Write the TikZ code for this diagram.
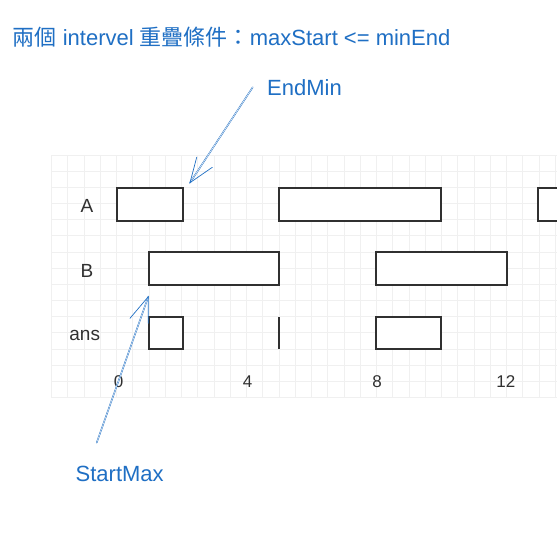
\documentclass[tikz,border=0pt]{standalone}
\usepackage{fontspec}
\setmainfont{Liberation Sans}
\newfontfamily\cjk{Noto Sans CJK TC}
\definecolor{noteblue}{HTML}{1F6FC4}
\definecolor{boxgray}{HTML}{303030}
\definecolor{gridgray}{HTML}{F0F0F0}
\begin{document}
\begin{tikzpicture}[x=1pt,y=-1pt,
  bar/.style={draw=boxgray,line width=2pt,fill=white},
  rowlbl/.style={text=boxgray,font=\fontsize{19}{22}\selectfont,inner sep=0pt},
  axlbl/.style={text=boxgray,font=\fontsize{17}{20}\selectfont,inner sep=0pt,anchor=base},
  note/.style={text=noteblue,font=\fontsize{22}{26}\selectfont,inner sep=0pt,anchor=base west},
  sketch/.style={draw=noteblue,line width=0.45pt,double=white,double distance=0.5pt,line cap=round},
  barb/.style={draw=noteblue,line width=0.7pt,line cap=round}]
\useasboundingbox (0,0) rectangle (557,546);
\fill[white] (0,0) rectangle (557,546);
% grid
\foreach \k in {-4,...,27} {
  \draw[gridgray,line width=1pt] ({116.7+16.25*\k},155) -- ({116.7+16.25*\k},397.5);
}
\foreach \j in {0,...,15} {
  \draw[gridgray,line width=1pt] (52,{155+16.17*\j}) -- (557,{155+16.17*\j});
}
% title
\node[note] (title) at (12.5,45) {{\cjk 兩個} intervel {\cjk 重疊條件：}maxStart <= minEnd};
% row labels
\node[rowlbl,anchor=base] (la) at (87,212.3) {A};
\node[rowlbl,anchor=base] (lb) at (87,277.3) {B};
\node[rowlbl,anchor=base] (lans) at (84.7,340.7) {ans};
% bars A
\draw[bar] (116.7,187.7) rectangle (182.7,220.7);
\draw[bar] (278.7,187.7) rectangle (441,220.7);
\draw[bar] (538.3,187.7) rectangle (570,220.7);
% bars B
\draw[bar] (149.3,252.3) rectangle (279.3,284.9);
\draw[bar] (376,252.3) rectangle (506.7,284.9);
% ans
\draw[bar] (149.3,316.7) rectangle (182.7,349.3);
\draw[draw=boxgray,line width=2pt] (278.7,317.3) -- (278.7,349);
\draw[bar] (376,316.7) rectangle (441,349.3);
% axis labels
\node[axlbl] (x0) at (118.5,387.3) {0};
\node[axlbl] (x4) at (247.5,387.3) {4};
\node[axlbl] (x8) at (377,387.3) {8};
\node[axlbl] (x12) at (505.8,387.3) {12};
% notes
\node[note] (endmin) at (267,95.7) {EndMin};
\node[note] (startmax) at (75.5,481.7) {StartMax};
\coordinate (emtail) at (252.7,87.3);
\coordinate (emtip) at (190,182.7);
\coordinate (emb1) at (196.7,157.3);
\coordinate (emb2) at (212.3,167.3);
\coordinate (smtail) at (96.7,442.7);
\coordinate (smtip) at (148.3,296.7);
\coordinate (smb1) at (130,318.3);
\coordinate (smb2) at (148.3,323.3);
\draw[sketch] (emtail) -- (emtip);
\draw[barb] (emb1) -- (emtip) -- (emb2);
\draw[sketch] (smtail) -- (smtip);
\draw[barb] (smb1) -- (smtip) -- (smb2);
\end{tikzpicture}
\end{document}
